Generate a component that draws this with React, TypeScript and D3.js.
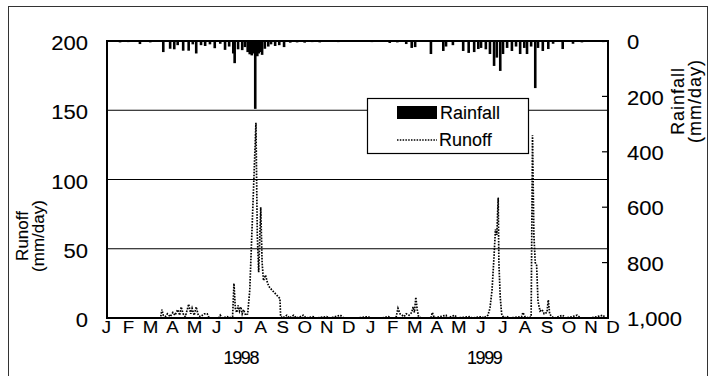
import * as d3 from "d3";

const MONTHS = ["J", "F", "M", "A", "M", "J", "J", "A", "S", "O", "N", "D", "J", "F", "M", "A", "M", "J", "J", "A", "S", "O", "N", "D"];
const YEARS = ["1998", "1999"];
const RUNOFF_TICKS = [0, 50, 100, 150, 200];
const RUNOFF_GRID = [50, 100, 150];
const RAIN_TICKS = [0, 200, 400, 600, 800, 1000];

// [day counted from 1 Jan 1998, mm/day]
const rain1998: [number, number][] = [
  [19, 5], [31, 4], [48, 11], [63, 5], [82, 40], [92, 28], [98, 30], [103, 15],
  [111, 35], [119, 35], [125, 12], [130, 45], [137, 15], [143, 18], [150, 12],
  [157, 26], [165, 10], [172, 32], [178, 20], [184, 45], [186, 80], [191, 30],
  [197, 33], [201, 22], [205, 40], [208, 48], [211, 52], [213, 45], [216, 245], [219, 55],
  [221, 45], [223, 40], [226, 50], [230, 28], [235, 20], [239, 12], [245, 18], [251, 15],
  [258, 22], [267, 6], [277, 5], [288, 6], [299, 4], [310, 5], [322, 3], [337, 4], [347, 3],
];

const rain1999: [number, number][] = [
  [366, 3], [386, 4], [412, 7], [423, 5], [436, 11], [444, 25], [449, 22], [472, 47],
  [490, 36], [494, 20], [504, 15], [519, 36], [527, 43], [535, 40], [541, 29],
  [545, 25], [552, 30], [558, 47], [564, 90], [568, 60], [573, 108], [577, 47],
  [583, 25], [590, 36], [596, 20], [602, 47], [608, 25], [612, 47], [618, 20],
  [624, 170], [628, 25], [635, 36], [643, 29], [650, 10], [664, 29], [679, 10],
  [692, 5], [707, 3], [723, 4],
];

const runoff1998: [number, number][] = [
  [0, 0], [78, 0], [80, 6], [82, 2], [85, 1], [88, 3], [92, 1], [96, 4], [99, 2],
  [103, 6], [106, 2], [108, 8], [111, 3], [114, 1], [117, 6], [119, 10], [122, 3],
  [124, 7], [127, 2], [130, 8], [133, 2], [136, 1], [142, 3], [146, 3], [149, 0],
  [163, 0], [165, 2], [168, 0], [175, 1], [178, 0], [183, 1], [185, 25], [187, 7],
  [189, 4], [191, 9], [193, 5], [195, 8], [197, 3], [199, 6], [202, 2], [205, 3],
  [208, 20], [211, 60], [214, 100], [217, 141], [219, 60], [221, 33], [224, 80],
  [226, 40], [228, 27], [231, 31], [234, 25], [237, 22], [252, 14], [253, 1], [256, 0],
  [262, 2], [266, 0], [272, 2], [276, 0], [282, 1], [286, 2], [290, 0], [300, 1],
  [304, 0], [320, 1], [325, 0], [340, 2], [345, 0], [365, 0],
];

const runoff1999: [number, number][] = [
  [365, 0], [380, 1], [384, 0], [400, 0], [410, 1], [414, 0], [421, 0], [424, 7],
  [427, 3], [430, 2], [433, 1], [436, 3], [440, 2], [444, 4], [446, 8], [448, 4],
  [450, 15], [452, 6], [454, 1], [458, 0], [472, 0], [474, 4], [477, 0], [494, 2],
  [496, 0], [507, 2], [510, 0], [529, 1], [532, 0], [546, 1], [549, 0], [555, 2],
  [558, 7], [561, 20], [564, 45], [566, 64], [568, 60], [570, 87], [571, 40],
  [573, 15], [575, 3], [578, 0], [583, 1], [586, 0], [604, 1], [606, 4], [609, 1],
  [615, 0], [618, 1], [620, 132], [622, 60], [624, 40], [626, 38], [628, 12],
  [631, 5], [634, 6], [637, 3], [641, 4], [643, 13], [645, 3], [648, 1], [652, 0],
  [664, 2], [668, 0], [678, 1], [685, 2], [690, 0], [705, 0], [723, 2], [726, 0], [729, 0],
];

const FONT = "'Liberation Sans', Arial, sans-serif";

export default function App() {
  const left = 107, right = 608, top = 41, bottom = 318;

  const xDay = d3.scaleLinear().domain([0, 730]).range([left, right]);
  const xMonth = d3.scalePoint<number>().domain(d3.range(MONTHS.length)).range([106.5, 613]);
  const yRun = d3.scaleLinear().domain([0, 200]).range([bottom, top]);
  const yRain = d3.scaleLinear().domain([0, 1000]).range([top, bottom]);

  const rain = rain1998.concat(rain1999);
  const runoff = runoff1998.concat(runoff1999.slice(1));
  const line = d3.line<[number, number]>().x(d => xDay(d[0])).y(d => yRun(d[1]));
  const fmt = d3.format(",");

  const step = xMonth.step();
  const yearPos = [6.1, 17.15];

  const sx = 1.1;
  const txt = (x: number, y: number) => `translate(${x},${y}) scale(${sx},1)`;
  // scanned text is a touch heavier than a plain regular face
  const ink = { stroke: "#000", strokeWidth: 0.12 };

  return (
    <svg width={709} height={376} style={{ position: "absolute", left: 0, top: 0, background: "#fff" }} fontFamily={FONT}>
      <rect x={8.5} y={6.5} width={699} height={380} fill="#fff" stroke="#333" strokeWidth={1} />

      {/* gridlines */}
      {RUNOFF_GRID.map(v => (
        <line key={v} x1={left} x2={right} y1={yRun(v)} y2={yRun(v)} stroke="#000" strokeWidth={1.2} />
      ))}

      {/* right-axis inner ticks */}
      {RAIN_TICKS.slice(1, -1).map(v => (
        <line key={v} x1={right - 6} x2={right} y1={yRain(v)} y2={yRain(v)} stroke="#000" strokeWidth={1.2} />
      ))}

      {/* rainfall bars hanging from top */}
      {rain.map(d => (
        <rect key={d[0]} x={xDay(d[0]) - 1.3} y={top} width={2.6} height={yRain(d[1]) - top} fill="#000" />
      ))}

      {/* runoff */}
      <path d={line(runoff) ?? ""} fill="none" stroke="#000" strokeWidth={1.7} strokeDasharray="1.6 1.3" />

      {/* frame */}
      <rect x={left} y={top} width={right - left} height={bottom - top} fill="none" stroke="#000" strokeWidth={2} />

      {/* left axis labels */}
      {RUNOFF_TICKS.map(v => (
        <text key={v} transform={txt(88, yRun(v) + 2)} textAnchor="end" dominantBaseline="central" fontSize={20} {...ink}>{v}</text>
      ))}

      {/* right axis labels */}
      {RAIN_TICKS.map(v => (
        <text key={v} transform={txt(627, yRain(v) + 1)} dominantBaseline="central" fontSize={20} {...ink}>{fmt(v)}</text>
      ))}

      {/* month labels */}
      {MONTHS.map((m, i) => (
        <text key={i} transform={txt(xMonth(i) ?? 0, 327)} textAnchor="middle" dominantBaseline="central" fontSize={17} {...ink}>{m}</text>
      ))}

      {/* year labels */}
      {YEARS.map((yr, i) => (
        <text key={yr} transform={`translate(${106.5 + step * yearPos[i]},358)`} textAnchor="middle" dominantBaseline="central" fontSize={18} letterSpacing={-1.4} {...ink}>{yr}</text>
      ))}

      {/* axis titles */}
      <g transform="translate(22,236) rotate(-90)">
        <text textAnchor="middle" dominantBaseline="central" fontSize={17} {...ink}>Runoff</text>
      </g>
      <g transform="translate(38,236) rotate(-90)">
        <text textAnchor="middle" dominantBaseline="central" fontSize={17} {...ink}>(mm/day)</text>
      </g>
      <g transform="translate(678,101) rotate(-90)">
        <text textAnchor="middle" dominantBaseline="central" fontSize={18} letterSpacing={1} {...ink}>Rainfall</text>
      </g>
      <g transform="translate(695,101) rotate(-90)">
        <text textAnchor="middle" dominantBaseline="central" fontSize={18} letterSpacing={1} {...ink}>(mm/day)</text>
      </g>

      {/* legend */}
      <rect x={367.5} y={98.5} width={161} height={55} fill="#fff" stroke="#000" strokeWidth={1.2} />
      <rect x={397} y={106} width={40} height={13} fill="#000" />
      <text x={440} y={113} dominantBaseline="central" fontSize={18} {...ink}>Rainfall</text>
      <line x1={397} x2={437} y1={140} y2={140} stroke="#000" strokeWidth={1.6} strokeDasharray="1.5 1.3" />
      <text x={439} y={140} dominantBaseline="central" fontSize={18} {...ink}>Runoff</text>
    </svg>
  );
}
